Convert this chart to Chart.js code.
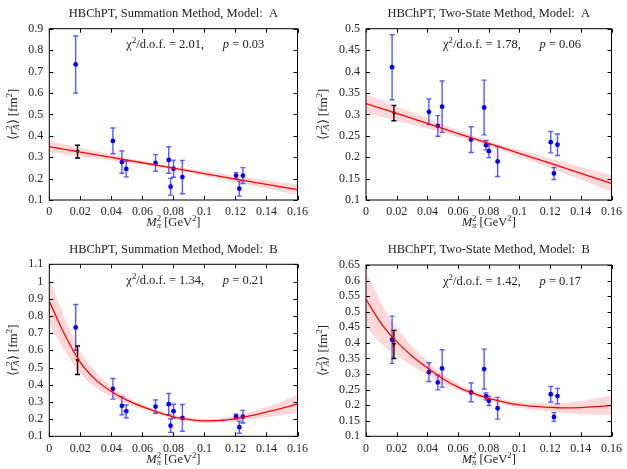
<!DOCTYPE html>
<html>
<head>
<meta charset="utf-8">
<script src="https://cdn.jsdelivr.net/npm/chart.js@4.4.1/dist/chart.umd.min.js"></script>
<style>
  body { margin: 0; background: #fff; }
  canvas { position: absolute; }
</style>
</head>
<body>
<canvas id="c1" width="313" height="235" style="left:0;top:0"></canvas>
<canvas id="c2" width="314" height="235" style="left:313px;top:0"></canvas>
<canvas id="c3" width="313" height="234" style="left:0;top:235px"></canvas>
<canvas id="c4" width="314" height="234" style="left:313px;top:235px"></canvas>
<script>
// ===== data =====
const mpi2 = [0.0170, 0.0410, 0.0468, 0.0496, 0.0685, 0.0770, 0.0782, 0.0801, 0.0858, 0.1204, 0.1225, 0.1248];
const sumVals = [0.733, 0.376, 0.277, 0.245, 0.273, 0.287, 0.162, 0.246, 0.207, 0.214, 0.153, 0.214];
const sumErrs = [0.133, 0.060, 0.052, 0.037, 0.039, 0.062, 0.039, 0.040, 0.078, 0.014, 0.035, 0.037];
const twoVals = [0.410, 0.306, 0.273, 0.318, 0.241, 0.316, 0.228, 0.214, 0.190, 0.235, 0.162, 0.229];
const twoErrs = [0.076, 0.030, 0.024, 0.060, 0.030, 0.064, 0.011, 0.015, 0.035, 0.025, 0.014, 0.025];

// physical point (black)
const physX = 0.0182;
const physVals = [0.326, 0.303, 0.542, 0.395];
const physErrs = [0.030, 0.018, 0.083, 0.045];

// fit curves and error bands
const fitXA = [0, 0.02, 0.04, 0.06, 0.08, 0.10, 0.12, 0.14, 0.16];
const sumAFit = [0.349, 0.324, 0.299, 0.274, 0.249, 0.223, 0.198, 0.173, 0.148];
const sumAHi  = [0.375, 0.344, 0.313, 0.283, 0.257, 0.234, 0.213, 0.192, 0.172];
const sumALo  = [0.323, 0.304, 0.285, 0.265, 0.241, 0.212, 0.183, 0.154, 0.124];
const twoAFit = [0.325, 0.302, 0.279, 0.255, 0.232, 0.209, 0.186, 0.162, 0.139];
const twoAHi  = [0.347, 0.319, 0.291, 0.263, 0.238, 0.217, 0.197, 0.177, 0.158];
const twoALo  = [0.303, 0.285, 0.267, 0.247, 0.226, 0.201, 0.175, 0.147, 0.120];

const fitXB = [0, 0.01, 0.02, 0.03, 0.04, 0.05, 0.06, 0.07, 0.08, 0.09, 0.10, 0.11, 0.12, 0.13, 0.14, 0.15, 0.16];
const sumBFit = [0.885, 0.690, 0.530, 0.428, 0.360, 0.310, 0.272, 0.240, 0.213, 0.198, 0.190, 0.192, 0.203, 0.220, 0.241, 0.263, 0.288];
const sumBHi  = [1.020, 0.785, 0.595, 0.473, 0.390, 0.330, 0.287, 0.252, 0.225, 0.210, 0.202, 0.205, 0.219, 0.242, 0.271, 0.303, 0.341];
const sumBLo  = [0.750, 0.595, 0.465, 0.383, 0.330, 0.290, 0.257, 0.228, 0.201, 0.186, 0.178, 0.179, 0.187, 0.198, 0.211, 0.223, 0.235];
const twoBFit = [0.540, 0.462, 0.404, 0.358, 0.320, 0.285, 0.258, 0.238, 0.222, 0.210, 0.201, 0.196, 0.193, 0.191, 0.192, 0.195, 0.199];
const twoBHi  = [0.630, 0.527, 0.449, 0.390, 0.342, 0.300, 0.269, 0.247, 0.230, 0.218, 0.210, 0.207, 0.206, 0.207, 0.213, 0.221, 0.231];
const twoBLo  = [0.450, 0.397, 0.359, 0.326, 0.298, 0.270, 0.247, 0.229, 0.214, 0.202, 0.192, 0.185, 0.180, 0.175, 0.171, 0.169, 0.167];

// tick labels
const xTicks = [0, 0.02, 0.04, 0.06, 0.08, 0.1, 0.12, 0.14, 0.16];
const yTicks1 = [0.1, 0.2, 0.3, 0.4, 0.5, 0.6, 0.7, 0.8, 0.9];
const yTicks2 = [0.1, 0.15, 0.2, 0.25, 0.3, 0.35, 0.4, 0.45, 0.5];
const yTicks3 = [0.1, 0.2, 0.3, 0.4, 0.5, 0.6, 0.7, 0.8, 0.9, 1, 1.1];
const yTicks4 = [0.1, 0.15, 0.2, 0.25, 0.3, 0.35, 0.4, 0.45, 0.5, 0.55, 0.6, 0.65];

const titles = [
  "HBChPT, Summation Method, Model:  A",
  "HBChPT, Two-State Method, Model:  A",
  "HBChPT, Summation Method, Model:  B",
  "HBChPT, Two-State Method, Model:  B"
];
const chi2 = ["2.01", "1.78", "1.34", "1.42"];
const pval = ["0.03", "0.06", "0.21", "0.17"];

const FONT = "'Liberation Serif', 'Times New Roman', serif";
const pts = (xs, ys) => xs.map((x, i) => ({ x: x, y: ys[i] }));

// draws a run of text pieces: {t, it, sm, dy, stay}
function drawRich(ctx, parts, x, y, size) {
  const fontOf = p => (p.it ? "italic " : "") + (p.sm ? size * 0.7 : size) + "px " + FONT;
  let w = 0;
  parts.forEach(p => { ctx.font = fontOf(p); if (!p.stay) w += ctx.measureText(p.t).width; });
  let cx = x - w / 2;
  ctx.textBaseline = "middle";
  ctx.textAlign = "left";
  parts.forEach(p => {
    ctx.font = fontOf(p);
    ctx.fillText(p.t, cx, y + (p.dy || 0));
    if (!p.stay) cx += ctx.measureText(p.t).width;
  });
}

const yLabelParts = [
  { t: "\u27E8" }, { t: "r", it: true }, { t: "2", sm: true, dy: -4, stay: true },
  { t: "A", sm: true, it: true, dy: 3 }, { t: "\u27E9 [fm" }, { t: "2", sm: true, dy: -4 }, { t: "]" }
];
const xLabelParts = [
  { t: "M", it: true }, { t: "2", sm: true, dy: -4, stay: true }, { t: "\u03C0", sm: true, it: true, dy: 3 },
  { t: " [GeV" }, { t: "2", sm: true, dy: -4 }, { t: "]" }
];

// ===== plugin: error bars =====
const errorBars = {
  id: "errorBars",
  beforeDatasetDraw(chart, args) {
    const ds = chart.data.datasets[args.index];
    if (!ds.errors) return;
    const { ctx, scales: { x, y } } = chart;
    ctx.save();
    ctx.strokeStyle = ds.errColor;
    ctx.lineWidth = 1.4;
    ds.data.forEach((p, i) => {
      const px = x.getPixelForValue(p.x);
      const top = y.getPixelForValue(p.y + ds.errors[i]);
      const bot = y.getPixelForValue(p.y - ds.errors[i]);
      ctx.beginPath();
      ctx.moveTo(px, top); ctx.lineTo(px, bot);
      ctx.moveTo(px - 2.5, top); ctx.lineTo(px + 2.5, top);
      ctx.moveTo(px - 2.5, bot); ctx.lineTo(px + 2.5, bot);
      ctx.stroke();
    });
    ctx.restore();
  }
};

// ===== plugin: frame, inward ticks, labels, annotation =====
const decor = {
  id: "decor",
  afterDraw(chart, args, o) {
    const { ctx, chartArea: a, scales: { x, y } } = chart;
    ctx.save();
    ctx.strokeStyle = "#000";
    ctx.lineWidth = 1;
    ctx.strokeRect(a.left, a.top, a.right - a.left, a.bottom - a.top);
    ctx.beginPath();
    x.ticks.forEach(t => {
      const px = Math.round(x.getPixelForValue(t.value)) + 0.5;
      ctx.moveTo(px, a.bottom); ctx.lineTo(px, a.bottom - 4);
      ctx.moveTo(px, a.top); ctx.lineTo(px, a.top + 4);
    });
    y.ticks.forEach(t => {
      const py = Math.round(y.getPixelForValue(t.value)) + 0.5;
      ctx.moveTo(a.left, py); ctx.lineTo(a.left + 4, py);
      ctx.moveTo(a.right, py); ctx.lineTo(a.right - 4, py);
    });
    ctx.stroke();

    ctx.fillStyle = "#222";
    drawRich(ctx, xLabelParts, (a.left + a.right) / 2, a.bottom + 23, 12.5);
    ctx.save();
    ctx.translate(o.yLabelX, (a.top + a.bottom) / 2);
    ctx.rotate(-Math.PI / 2);
    drawRich(ctx, yLabelParts, 0, 0, 13);
    ctx.restore();

    drawRich(ctx, [
      { t: "\u03C7" }, { t: "2", sm: true, dy: -4 }, { t: "/d.o.f. = " + o.chi2 + ",      " },
      { t: "p", it: true }, { t: " = " + o.p }
    ], a.left + 146, a.top + 16.5, 12.5);
    ctx.restore();
  }
};

function makePanel(id, n, vals, errs, fx, fit, hi, lo, yMin, yMax, yTicks, box) {
  const curved = fx.length > 9;
  const lineBase = { showLine: true, pointRadius: 0, cubicInterpolationMode: curved ? "monotone" : "default", tension: 0 };
  new Chart(document.getElementById(id), {
    type: "scatter",
    data: {
      datasets: [
        { ...lineBase, data: pts(fx, hi), borderWidth: 0, borderColor: "rgba(0,0,0,0)", fill: false },
        { ...lineBase, data: pts(fx, lo), borderWidth: 0, borderColor: "rgba(0,0,0,0)", fill: "-1", backgroundColor: "rgba(255,0,0,0.15)" },
        { ...lineBase, data: pts(fx, fit), borderColor: "#ff0000", borderWidth: 1.3 },
        { data: [{ x: physX, y: physVals[n] }], errors: [physErrs[n]], errColor: "#000",
          pointStyle: "triangle", rotation: 180, pointRadius: 2.6, backgroundColor: "#000", borderColor: "#000", borderWidth: 0 },
        { data: pts(mpi2, vals), errors: errs, errColor: "rgba(0,0,255,0.65)",
          pointRadius: 2.4, backgroundColor: "#0000ff", borderColor: "#0000ff", borderWidth: 0 }
      ]
    },
    options: {
      responsive: false,
      animation: false,
      devicePixelRatio: 1,
      layout: { padding: { left: 0, right: box.right, top: 0, bottom: 0 } },
      plugins: {
        legend: { display: false },
        tooltip: { enabled: false },
        title: {
          display: true, text: titles[n], fullSize: false, color: "#222",
          font: { family: FONT, size: 12.5, weight: "normal", lineHeight: 1.2 },
          padding: { top: box.tTop, bottom: box.top - box.tTop - 15 }
        },
        decor: { yLabelX: box.yLabelX, chi2: chi2[n], p: pval[n] }
      },
      scales: {
        x: {
          type: "linear", min: 0, max: 0.16,
          grid: { display: false, drawTicks: false },
          border: { display: false },
          afterBuildTicks: s => { s.ticks = xTicks.map(v => ({ value: v })); },
          afterFit: s => { s.height = box.xH; },
          ticks: { color: "#222", padding: 5, maxRotation: 0, autoSkip: false, font: { family: FONT, size: 12 },
                   callback: v => String(+v.toFixed(2)) }
        },
        y: {
          type: "linear", min: yMin, max: yMax,
          grid: { display: false, drawTicks: false },
          border: { display: false },
          afterBuildTicks: s => { s.ticks = yTicks.map(v => ({ value: v })); },
          afterFit: s => { s.width = box.left; },
          ticks: { color: "#222", padding: 6, autoSkip: false, font: { family: FONT, size: 12 },
                   callback: v => String(+v.toFixed(2)) }
        }
      }
    },
    plugins: [errorBars, decor]
  });
}

makePanel("c1", 0, sumVals, sumErrs, fitXA, sumAFit, sumAHi, sumALo, 0.1, 0.9, yTicks1,
  { left: 49.3, right: 9.3, top: 28.7, tTop: 5.8, xH: 35, yLabelX: 13.3 });
makePanel("c2", 1, twoVals, twoErrs, fitXA, twoAFit, twoAHi, twoALo, 0.1, 0.5, yTicks2,
  { left: 53, right: 11, top: 28.7, tTop: 5.8, xH: 35, yLabelX: 10.3 });
makePanel("c3", 2, sumVals, sumErrs, fitXB, sumBFit, sumBHi, sumBLo, 0.1, 1.1, yTicks3,
  { left: 49.3, right: 9.3, top: 29.3, tTop: 7.5, xH: 32.7, yLabelX: 13.3 });
makePanel("c4", 3, twoVals, twoErrs, fitXB, twoBFit, twoBHi, twoBLo, 0.1, 0.65, yTicks4,
  { left: 53, right: 11, top: 30, tTop: 7.5, xH: 32.7, yLabelX: 10.3 });
</script>
</body>
</html>
